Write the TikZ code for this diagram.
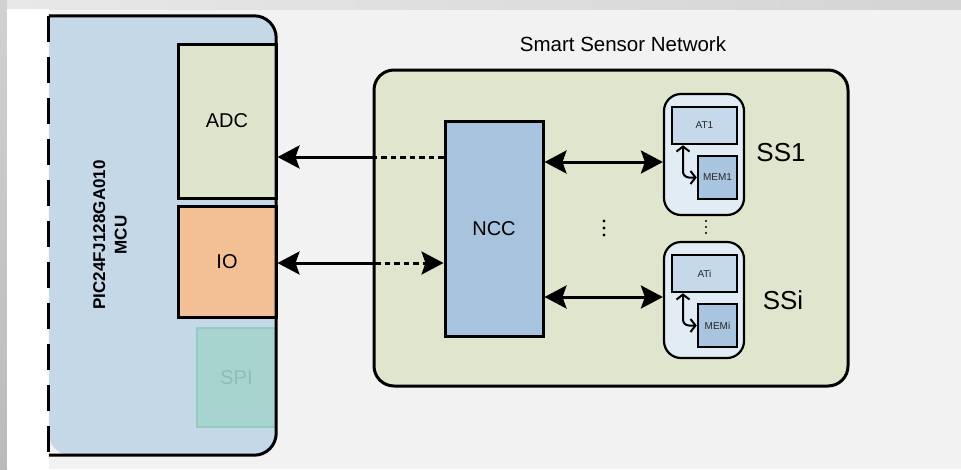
\documentclass[tikz,border=0pt]{standalone}
\usepackage{fontspec}
\setmainfont{Liberation Sans}
\usetikzlibrary{arrows.meta}
\definecolor{panel}{HTML}{F2F2F2}
\definecolor{mcublue}{HTML}{C5D8E8}
\definecolor{adcgreen}{HTML}{DFE4CD}
\definecolor{iopeach}{HTML}{F3BF95}
\definecolor{spifill}{HTML}{A8D4CF}
\definecolor{spiline}{HTML}{97C8C2}
\definecolor{spitext}{HTML}{8DBDB8}
\definecolor{ssnfill}{HTML}{E0E5CD}
\definecolor{nccfill}{HTML}{A7C3DD}
\definecolor{ssfill}{HTML}{E1ECF5}
\definecolor{atfill}{HTML}{C6D9EB}
\definecolor{memfill}{HTML}{A8C4DF}
\definecolor{smalltext}{HTML}{262626}
\begin{document}
\begin{tikzpicture}[x=1pt,y=-1pt,
  blockbox/.style={draw=black, line width=3pt, rectangle, inner sep=0pt,
    font=\fontsize{20}{24}\selectfont},
  ssbox/.style={draw=black, line width=2.2pt, rectangle, rounded corners=17pt, fill=ssfill, inner sep=0pt},
  innerbox/.style={draw=black, line width=2.5pt, rectangle, inner sep=0pt,
    text=smalltext, font=\fontsize{10}{12}\selectfont},
  sslabel/.style={font=\fontsize{26}{30}\selectfont, inner sep=0pt},
  bigarrow/.style={line width=3pt, draw=black},
  dotline/.style={line width=3pt, draw=black, dash pattern=on 5.5pt off 4pt},
  bigtip/.tip={Stealth[length=22pt, width=23pt, inset=4pt]},
  smalltip/.tip={Straight Barb[length=5pt, width=13pt, line width=2pt]},
  smallarrow/.style={line width=2pt, draw=black, rounded corners=6pt}
]
\useasboundingbox (0,0) rectangle (961,469);
% background
\fill[panel] (0,0) rectangle (961,469);
\shade[left color=black!9, right color=black!17] (0,0) rectangle (961,9);
\shade[top color=black!18, bottom color=black!27] (0,0) rectangle (7,469);
\fill[white] (7,9) rectangle (49,469);

% MCU
\node[rectangle, inner sep=0pt, minimum width=227pt, minimum height=439pt] (mcu) at (162.5,235.5) {};
\fill[mcublue, rounded corners=22pt] (mcu.north west) -- (mcu.north east) -- (mcu.south east) -- (mcu.south west) [sharp corners] -- cycle;
\node[rotate=90, align=center, font=\fontsize{17}{21.5}\selectfont\bfseries, inner sep=0pt] (mcutext) at (110,235) {PIC24FJ128GA010\\MCU};
\node[blockbox, fill=adcgreen, minimum width=98pt, minimum height=154pt] (ADC) at (227,121) {ADC};
\node[blockbox, fill=iopeach, minimum width=98pt, minimum height=111pt] (IO) at (227,261.5) {IO};
\node[draw=spiline, line width=2pt, fill=spifill, text=spitext, rectangle, inner sep=0pt,
  minimum width=79pt, minimum height=99pt, font=\fontsize{20}{24}\selectfont] (SPI) at (236.5,377.5) {SPI};
\draw[line width=3pt, rounded corners=22pt] (mcu.north west) -- (mcu.north east) -- (mcu.south east) -- (mcu.south west);
\draw[line width=3pt, dash pattern=on 26pt off 15pt] (mcu.north west) -- (mcu.south west);

% Smart sensor network
\node[font=\fontsize{20.5}{24}\selectfont, inner sep=0pt] (title) at (623,44) {Smart Sensor Network};
\node[draw=black, line width=3pt, fill=ssnfill, rectangle, rounded corners=20pt, inner sep=0pt,
  minimum width=474pt, minimum height=316pt] (SSN) at (611,228) {};
\node[blockbox, fill=nccfill, minimum width=98pt, minimum height=215pt] (NCC) at (494,228.5) {NCC};

% sensor 1
\node[ssbox, minimum width=80pt, minimum height=121pt] (SS1) at (704,154.5) {};
\node[innerbox, fill=atfill, minimum width=65pt, minimum height=37pt] (AT1) at (704.5,125.5) {AT1};
\node[innerbox, fill=memfill, minimum width=39pt, minimum height=43pt] (MEM1) at (717.5,177.5) {MEM1};
\node[sslabel] (L1) at (781,153) {SS1};
% sensor i
\node[ssbox, minimum width=80pt, minimum height=116pt] (SSi) at (704,300) {};
\node[innerbox, fill=atfill, minimum width=65pt, minimum height=37pt] (ATi) at (704.5,273.5) {ATi};
\node[innerbox, fill=memfill, minimum width=39pt, minimum height=43pt] (MEMi) at (717.5,325.5) {MEMi};
\node[sslabel] (Li) at (783,300) {SSi};

% inner arrows
\coordinate (c1) at (683,144);
\coordinate (c2) at (683,292);
\draw[smallarrow, smalltip-smalltip] (AT1.south -| c1) |- (MEM1.west);
\draw[smallarrow, smalltip-smalltip] (ATi.south -| c2) |- (MEMi.west);

% MCU <-> NCC arrows
\coordinate (j1) at (375,157);
\coordinate (j2) at (375,263);
\draw[bigarrow, -bigtip] (j1) -- (ADC.east |- j1);
\draw[dotline] (NCC.west |- j1) -- (j1);
\draw[bigarrow, -bigtip] (j2) -- (IO.east |- j2);
\draw[dotline, -bigtip] (j2) -- (NCC.west |- j2);

% NCC <-> SS arrows
\coordinate (k1) at (600,162);
\coordinate (k2) at (600,297);
\draw[bigarrow, bigtip-bigtip] (NCC.east |- k1) -- (SS1.west |- k1);
\draw[bigarrow, bigtip-bigtip] (NCC.east |- k2) -- (SSi.west |- k2);

% ellipses
\foreach \yy in {221,228,235} \fill (604,\yy) circle (1.6pt);
\foreach \yy in {221,227,233} \fill (706,\yy) circle (1.2pt);
\end{tikzpicture}
\end{document}
